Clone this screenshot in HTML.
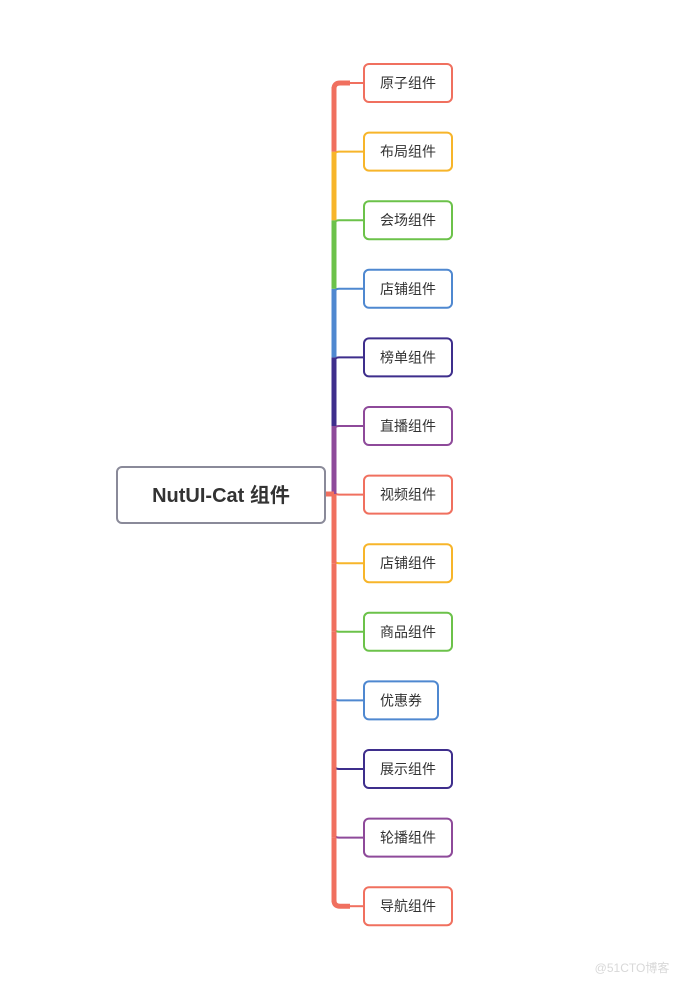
<!DOCTYPE html>
<html><head><meta charset="utf-8">
<style>
body{margin:0;background:#fff;width:682px;height:984px;overflow:hidden;font-family:"Liberation Sans","Noto Sans CJK SC",sans-serif;}
svg{position:absolute;left:0;top:0}
</style></head>
<body>
<svg id="map" width="682" height="984">
<rect x="117" y="467" width="208" height="56" rx="5" fill="#fff" stroke="#8a8a99" stroke-width="2"/>
<text x="221" y="502" text-anchor="middle" font-size="20" font-weight="bold" fill="#333" font-family="Liberation Sans,Noto Sans CJK SC,sans-serif">NutUI-Cat 组件</text>
<text x="632" y="972" text-anchor="middle" font-size="12" fill="#d8d8d8" font-family="Liberation Sans,Noto Sans CJK SC,sans-serif">@51CTO博客</text>
</svg>
<script>
const labels=["原子组件","布局组件","会场组件","店铺组件","榜单组件","直播组件","视频组件","店铺组件","商品组件","优惠券","展示组件","轮播组件","导航组件"];
const palette=["#f0705f","#f7b52a","#6cc24a","#4f88d0","#3e2e8c","#8e4a9a"];
const svg=document.getElementById('map');
const NS='http://www.w3.org/2000/svg';
const top0=83,step=68.6,tx=334,rootY=494;
function y(i){return top0+i*step;}
function mk(t,a){const e=document.createElementNS(NS,t);for(const k in a)e.setAttribute(k,a[k]);svg.insertBefore(e,svg.firstChild);return e;}
// stub from root
const stub=mk('line',{x1:325,y1:rootY,x2:tx,y2:rootY,stroke:'#f0705f','stroke-width':5});


labels.forEach((lab,i)=>{
  const c=palette[i%6];const cy=y(i);
  const w=lab.length===3?74:88;
  // trunk segment above root
  if(cy<rootY){
    const end=Math.min(y(i+1),rootY);
    const s=mk('line',{x1:tx,y1:cy+(i===0?4:0),x2:tx,y2:end,stroke:c,'stroke-width':5});
    
    
  } else if(i<labels.length-1){
    const s=mk('line',{x1:tx,y1:i===6?rootY:cy,x2:tx,y2:y(i+1)-(i+1===labels.length-1?4:0),stroke:'#f0705f','stroke-width':5});
    
    
  }
  const br=mk('path',{d:`M${tx} ${cy+(cy<rootY?5:-5)} Q${tx} ${cy} ${tx+5} ${cy} L364 ${cy}`,stroke:c,'stroke-width':(i===0||i===labels.length-1)?5:2,fill:'none'});
  if(i===0||i===labels.length-1){br.setAttribute('d',`M${tx} ${cy+(i===0?6:-6)} Q${tx} ${cy} ${tx+6} ${cy} L350 ${cy}`);
    const b2=mk('line',{x1:350,y1:cy,x2:364,y2:cy,stroke:c,'stroke-width':2});
    
    }
  
  
  const g=document.createElementNS(NS,'g');svg.appendChild(g);
  
  
  const r=document.createElementNS(NS,'rect');
  r.setAttribute('x',364);r.setAttribute('y',cy-19);r.setAttribute('width',w);r.setAttribute('height',38);r.setAttribute('rx',5);
  r.setAttribute('fill','#fff');r.setAttribute('stroke',c);r.setAttribute('stroke-width',2);
  
  
  g.appendChild(r);
  const t=document.createElementNS(NS,'text');
  t.setAttribute('x',364+w/2);t.setAttribute('y',cy+5);t.setAttribute('text-anchor','middle');
  t.setAttribute('font-size','14');t.setAttribute('fill','#333');
  t.setAttribute('font-family','Liberation Sans,Noto Sans CJK SC,sans-serif');
  
  
  t.textContent=lab;g.appendChild(t);
});
</script>
</body></html>
